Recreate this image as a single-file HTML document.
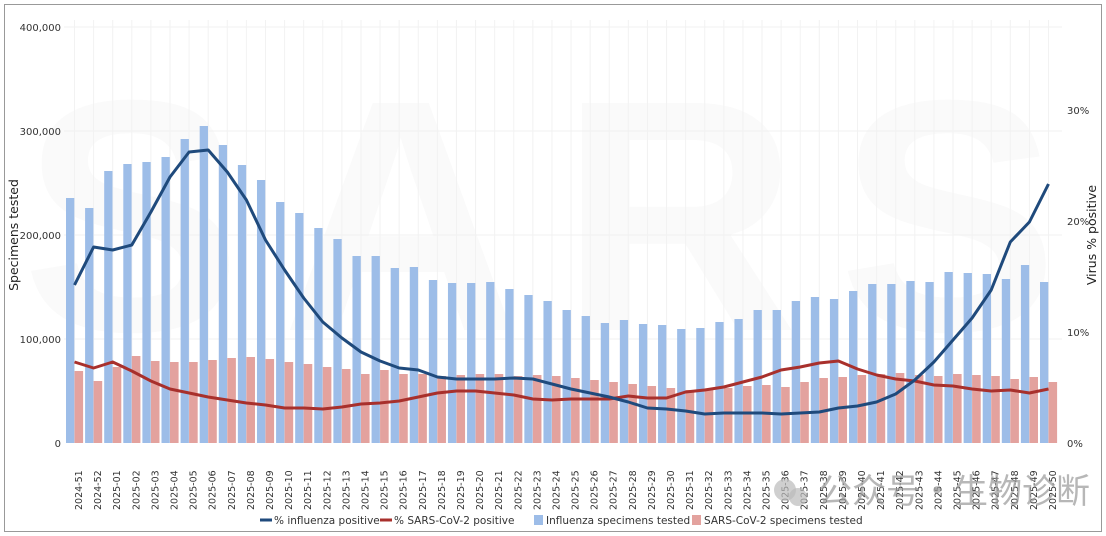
<!DOCTYPE html>
<html><head><meta charset="utf-8"><style>
html,body{margin:0;padding:0;background:#fff;}
svg{display:block;font-family:"DejaVu Sans","Liberation Sans",sans-serif;}
</style></head><body>
<svg id="c" width="1106" height="536" xmlns="http://www.w3.org/2000/svg"></svg>
<script>
const s=document.getElementById('c');
let h='<rect x="4.5" y="4.5" width="1097" height="527" fill="#fff" stroke="#999" stroke-width="1"/>';
const labels=[];
labels.push('2024-51','2024-52');
for(let i=1;i<=50;i++)labels.push('2025-'+(i<10?'0'+i:i));
const bt=[198,208,171,164,162,157,139,126,145,165,180,202,213,228,239,256,256,268,267,280,283,283,282,289,295,301,310,316,323,320,324,325,329,328,322,319,310,310,301,297,299,291,284,284,281,282,272,273,274,279,265,282];
const rt=[371,381,367,356,361,362,362,360,358,357,359,362,364,367,369,374,370,374,374,376,375,374,374,376,375,376,378,380,382,384,386,388,390,389,388,386,385,387,382,378,377,375,374,373,375,376,374,375,376,379,377,382];
const bl=[285,247,250,245,212,177,152,150,172,200,240,270,298,322,338,352,361,368,370,377,379,379,379,378,379,384,389,393,397,402,408,409,411,414,413,413,413,414,413,412,408,406,402,394,380,362,340,318,290,242,222,184];
const rl=[362,368,362,371,381,389,393,397,400,403,405,408,408,409,407,404,403,401,397,393,391,391,393,395,399,400,399,399,399,396,398,398,392,390,387,382,377,370,367,363,361,369,375,379,381,385,386,389,391,390,393,389];
const n=labels.length, x0=78, step=(1052-78)/(n-1);
h+='<text x="560" y="330" font-size="330" font-weight="bold" fill="#fafafa" text-anchor="middle" letter-spacing="40" font-family="Liberation Sans">SARS</text>';
[27,131,235,339].forEach(y=>h+=`<line x1="64" x2="1062" y1="${y}" y2="${y}" stroke="#f0f0f0"/>`);
for(let i=0;i<n;i++){const c=x0+i*step;h+=`<line x1="${c-3.5}" x2="${c-3.5}" y1="20" y2="443" stroke="#f2f2f2"/>`;}
for(let i=0;i<n;i++){const c=x0+i*step;
h+=`<rect x="${c-12}" y="${bt[i]}" width="8.3" height="${443-bt[i]}" fill="#9dbde8"/>`;
h+=`<rect x="${c-3.5}" y="${rt[i]}" width="8.6" height="${443-rt[i]}" fill="#e3a29e"/>`;
h+=`<text transform="translate(${c+4},510) rotate(-90)" font-size="9.5" fill="#333">${labels[i]}</text>`;}
const pl=(a,col)=>'<polyline fill="none" stroke="'+col+'" stroke-width="3" stroke-linejoin="round" points="'+a.map((y,i)=>(x0+i*step-3.5).toFixed(1)+','+y).join(' ')+'"/>';
h+=pl(rl,'#a8302c')+pl(bl,'#1f4a7c');
[['400,000',27],['300,000',131],['200,000',235],['100,000',339],['0',443]].forEach(([t,y])=>h+=`<text x="61" y="${y+4}" font-size="10" fill="#333" text-anchor="end">${t}</text>`);
h+='<text transform="translate(18,235) rotate(-90)" font-size="12.5" fill="#222" text-anchor="middle">Specimens tested</text>';
[['30%',110],['20%',221],['10%',332],['0%',443]].forEach(([t,y])=>h+=`<text x="1067" y="${y+4}" font-size="10" fill="#333">${t}</text>`);
h+='<text transform="translate(1096,235) rotate(-90)" font-size="12.5" fill="#222" text-anchor="middle">Virus % positive</text>';
h+='<line x1="260" x2="272" y1="520" y2="520" stroke="#1f4a7c" stroke-width="3"/><text x="274" y="524" font-size="10.5" fill="#333">% influenza positive</text>';
h+='<line x1="380" x2="392" y1="520" y2="520" stroke="#a8302c" stroke-width="3"/><text x="394" y="524" font-size="10.5" fill="#333">% SARS-CoV-2 positive</text>';
h+='<rect x="534" y="515" width="9" height="10" fill="#9dbde8"/><text x="546" y="524" font-size="10.5" fill="#333">Influenza specimens tested</text>';
h+='<rect x="692" y="515" width="9" height="10" fill="#e3a29e"/><text x="704" y="524" font-size="10.5" fill="#333">SARS-CoV-2 specimens tested</text>';
h+='<circle cx="785" cy="490" r="11" fill="#bbb" opacity="0.7"/><circle cx="798" cy="497" r="9" fill="#bbb" opacity="0.7"/>';
h+='<text x="818" y="503" font-size="34" fill="#999" opacity="0.7" font-family="\'Noto Sans CJK SC\',sans-serif">公众号·生物诊断</text>';
s.innerHTML=h;
</script>
</body></html>
